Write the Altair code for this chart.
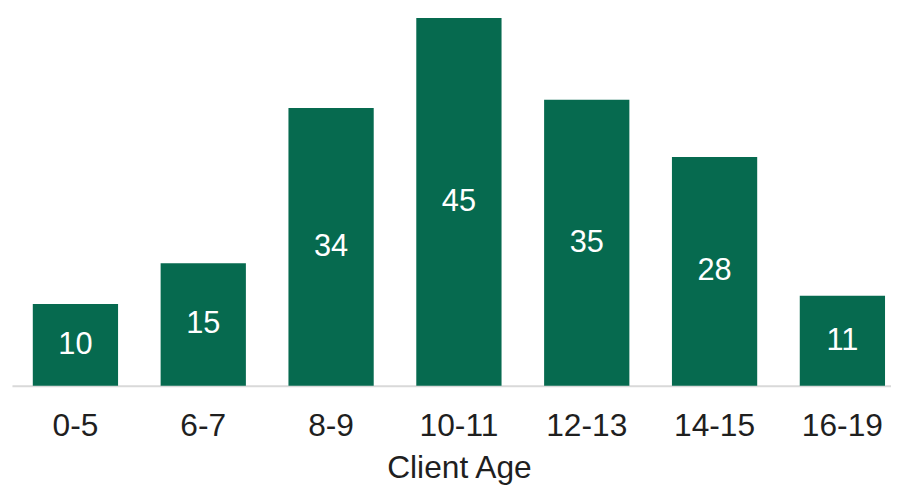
import altair as alt
import pandas as pd

ages = ["0-5", "6-7", "8-9", "10-11", "12-13", "14-15", "16-19"]
counts = [10, 15, 34, 45, 35, 28, 11]

df = pd.DataFrame({"age": ages, "count": counts})

FONT = "Liberation Sans"
GREEN = "#066a4f"

x = alt.X(
    "age:N",
    sort=ages,
    title="Client Age",
    scale=alt.Scale(range=[0, 902], paddingInner=0.333, paddingOuter=0.163),
    axis=alt.Axis(
        labelAngle=0,
        labelFont=FONT,
        labelFontSize=32,
        labelColor="#1f1f1f",
        labelPadding=25,
        ticks=False,
        tickSize=0,
        domainColor="#d9d9d9",
        domainWidth=2,
        grid=False,
        titleFont=FONT,
        titleFontSize=32,
        titleFontWeight="normal",
        titleColor="#1f1f1f",
        titleBaseline="alphabetic",
        titleY=93,
    ),
)

y = alt.Y("count:Q", scale=alt.Scale(domain=[0, 45], nice=False, zero=True), axis=None)

bars = alt.Chart(df).mark_bar(color=GREEN).encode(x=x, y=y)

labels = alt.Chart(df).transform_calculate(mid="datum.count / 2").mark_text(
    color="white", font=FONT, fontSize=31, baseline="middle", align="center"
).encode(
    x=alt.X("age:N", sort=ages),
    y=alt.Y("mid:Q", scale=alt.Scale(domain=[0, 45], nice=False)),
    text="count:Q",
)

chart = (
    alt.layer(bars, labels)
    .properties(
        width=887,
        height=371,
        autosize=alt.AutoSizeParams(type="none"),
        padding={"left": 4, "top": 8, "right": 0, "bottom": 98},
    )
    .configure_view(stroke=None)
)

chart.save("out.html", embed_options={"renderer": "svg", "actions": False})
